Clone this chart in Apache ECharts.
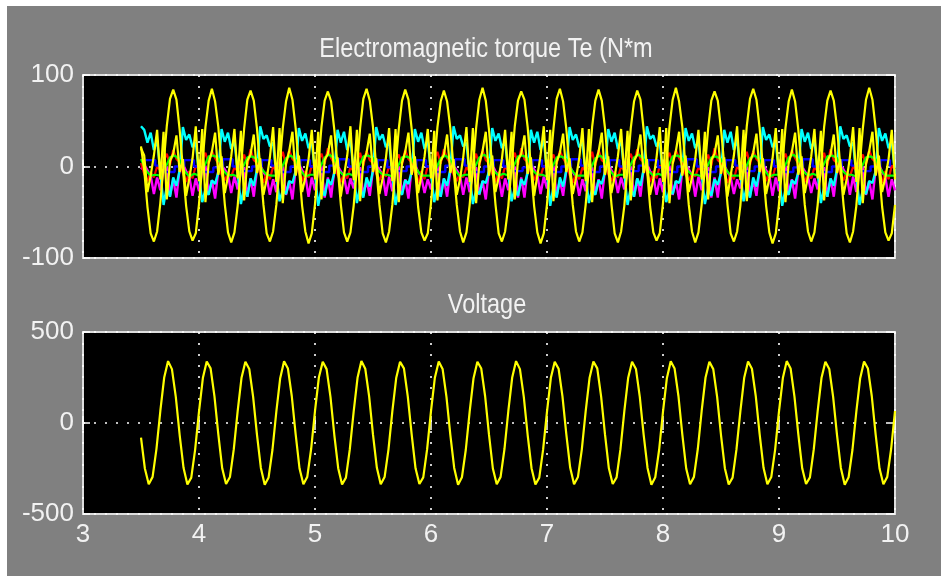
<!DOCTYPE html>
<html><head><meta charset="utf-8">
<script src="https://cdn.jsdelivr.net/npm/echarts@6/dist/echarts.min.js"></script>
<style>html,body{margin:0;padding:0;background:#fff;}#c{width:941px;height:576px;}</style>
</head><body><div id="c"></div>
<script>
// ---- axis ranges / ticks ----
const X_MIN = 3, X_MAX = 10, X_STEP = 1;
const TE_MIN = -100, TE_MAX = 100, TE_STEP = 100;
const V_MIN = -500, V_MAX = 500, V_STEP = 500;
const TITLE_TE = 'Electromagnetic torque Te (N*m';
const TITLE_V = 'Voltage';

// ---- sampling of the recorded signals (start time, sample period) ----
const T_START = 3.5;
const DT_TE = 1 / 36;     // torque traces
const DT_GREEN = 1 / 24;  // green trace
const DT_V = 1 / 30;      // voltage trace
const T_BLUE = 3.54, DT_BLUE = 1 / 12; // blue (held) trace

// ---- torque traces (N*m) ----
const teYellow = [
22,-4,-44,-73,-82,-71,-40,2,44,74,84,73,
40,-2,-43,-71,-81,-73,-41,1,43,72,85,71,
43,1,-41,-72,-83,-72,-43,-1,41,73,83,72,
41,-1,-42,-73,-82,-71,-42,0,42,71,86,73,
42,0,-43,-71,-84,-73,-41,1,43,72,82,71,
40,1,-41,-72,-82,-72,-43,-1,42,74,85,72,
43,-1,-42,-73,-83,-71,-42,0,41,72,84,73,
41,0,-44,-72,-81,-73,-40,2,43,71,83,71,
42,-2,-42,-71,-83,-72,-42,-1,42,73,86,72,
40,1,-41,-73,-82,-71,-43,0,44,72,82,73,
43,0,-43,-72,-84,-73,-41,1,41,74,85,71,
41,-1,-42,-71,-82,-72,-42,-1,43,72,84,72,
42,1,-41,-73,-83,-71,-43,0,42,71,83,73,
40,-1,-44,-72,-81,-73,-40,2,43,73,86,71,
43,0,-42,-71,-83,-72,-42,-1,41,72,82,72,
41,2,-41,-73,-82,-71,-43,0,44,74,85,73,
42,-1,-43,-72,-84,-73,-41,1,42,71,84,71,
40,0,-42,-71,-82,-72,-42,-1,43,72,83,72,
43,1,-41,-73,-83,-71,-43,0,41,73,86,73,
41,-1,-44,-72,-81,-73,-42
];
const teYellow2 = [
20,12,-28,-10,12,40,-14,38,-36,6,14,34,
-6,8,-32,-13,9,44,-16,41,-39,4,16,37,
-9,11,-29,-11,11,41,-13,39,-37,6,13,35,
-7,9,-31,-14,10,43,-17,42,-40,3,17,38,
-10,12,-28,-12,8,40,-14,38,-36,7,14,34,
-8,10,-33,-10,12,44,-15,40,-38,5,15,36,
-6,9,-30,-13,9,42,-16,41,-39,4,16,37,
-9,11,-29,-11,11,41,-13,39,-37,6,13,35,
-7,8,-31,-14,10,43,-17,42,-40,3,17,38,
-10,12,-28,-12,8,40,-14,38,-36,7,14,34,
-8,10,-32,-10,12,44,-15,40,-38,5,15,36,
-6,9,-30,-13,9,42,-16,41,-39,4,16,37,
-9,11,-29,-11,11,41,-13,39,-37,6,13,35,
-7,8,-31,-14,10,43,-17,42,-40,3,17,38,
-10,12,-28,-12,8,40,-14,38,-36,7,14,34,
-8,10,-33,-10,12,44,-15,40,-38,5,15,36,
-6,9,-30,-13,9,42,-16,41,-39,4,16,37,
-9,11,-29,-11,11,41,-13,39,-37,6,13,35,
-7,8,-31,-14,10,43,-17,42,-40,3,17,38,
-10,12,-28,-12,8,40,-14
];
const teCyan = [
44,40,26,37,18,29,-6,-42,-22,-33,-12,-21,
-4,43,29,35,21,27,-9,-39,-25,-31,-15,-19,
-6,41,27,37,19,29,-7,-41,-23,-33,-13,-21,
-3,44,30,34,22,26,-10,-38,-26,-30,-16,-18,
-5,42,28,36,20,28,-8,-43,-24,-32,-14,-20,
-7,40,26,38,18,30,-6,-40,-22,-34,-12,-22,
-4,43,29,35,21,27,-9,-42,-25,-31,-15,-19,
-6,41,27,37,19,29,-7,-39,-23,-33,-13,-21,
-3,44,30,34,22,26,-10,-41,-26,-30,-16,-18,
-5,42,28,36,20,28,-8,-38,-24,-32,-14,-20,
-7,40,26,38,18,30,-6,-43,-22,-34,-12,-22,
-4,43,29,35,21,27,-9,-40,-25,-31,-15,-19,
-6,41,27,37,19,29,-7,-42,-23,-33,-13,-21,
-3,44,30,34,22,26,-10,-39,-26,-30,-16,-18,
-5,42,28,36,20,28,-8,-41,-24,-32,-14,-20,
-7,40,26,38,18,30,-6,-38,-22,-34,-12,-22,
-4,43,29,35,21,27,-9,-43,-25,-31,-15,-19,
-6,41,27,37,19,29,-7,-40,-23,-33,-13,-21,
-3,44,30,34,22,26,-10,-42,-26,-30,-16,-18,
-5,42,28,36,20,28,-8
];
const teMagenta = [
-3,2,-4,-10,-30,-12,-26,-4,0,-32,-14,-34,
-2,3,-5,-11,-32,-13,-27,-3,1,-30,-15,-35,
-4,1,-3,-9,-29,-11,-25,-5,-1,-33,-13,-33,
-3,2,-6,-12,-31,-14,-28,-4,0,-31,-16,-36,
-2,3,-4,-10,-33,-12,-26,-3,1,-34,-12,-34,
-4,1,-5,-11,-30,-13,-24,-5,-1,-32,-15,-32,
-3,2,-3,-9,-32,-11,-27,-4,0,-30,-14,-35,
-2,3,-6,-12,-29,-14,-25,-3,1,-33,-13,-33,
-4,1,-4,-10,-31,-12,-28,-5,-1,-31,-16,-36,
-3,2,-5,-11,-33,-13,-26,-4,0,-34,-12,-34,
-2,3,-3,-9,-30,-11,-24,-3,1,-32,-15,-32,
-4,1,-6,-12,-32,-14,-27,-5,-1,-30,-14,-35,
-3,2,-4,-10,-29,-12,-25,-4,0,-33,-13,-33,
-2,3,-5,-11,-31,-13,-28,-3,1,-31,-16,-36,
-4,1,-3,-9,-33,-11,-26,-5,-1,-34,-12,-34,
-3,2,-6,-12,-30,-14,-24,-4,0,-32,-15,-32,
-2,3,-4,-10,-32,-12,-27,-3,1,-30,-14,-35,
-4,1,-5,-11,-29,-13,-25,-5,-1,-33,-13,-33,
-3,2,-3,-9,-31,-11,-28,-4,0,-31,-16,-36,
-2,3,-6,-12,-33,-14,-26
];
const teRed = [
4,-8,-16,-6,-12,0,-4,6,14,2,18,8,
5,-7,-17,-5,-13,1,-3,7,15,3,17,9,
3,-9,-15,-7,-11,-1,-5,5,13,1,19,7,
4,-8,-18,-6,-14,0,-4,6,16,2,18,8,
5,-7,-16,-5,-12,1,-3,7,14,3,20,9,
3,-9,-17,-7,-13,-1,-5,5,15,1,17,7,
4,-8,-15,-6,-11,0,-4,6,13,2,18,8,
5,-7,-18,-5,-14,1,-3,7,16,3,19,9,
3,-9,-16,-7,-12,-1,-5,5,14,1,18,7,
4,-8,-17,-6,-13,0,-4,6,15,2,20,8,
5,-7,-15,-5,-11,1,-3,7,13,3,17,9,
3,-9,-18,-7,-14,-1,-5,5,16,1,18,7,
4,-8,-16,-6,-12,0,-4,6,14,2,19,8,
5,-7,-17,-5,-13,1,-3,7,15,3,18,9,
3,-9,-15,-7,-11,-1,-5,5,13,1,20,7,
4,-8,-18,-6,-14,0,-4,6,16,2,17,8,
5,-7,-16,-5,-12,1,-3,7,14,3,18,9,
3,-9,-17,-7,-13,-1,-5,5,15,1,19,7,
4,-8,-15,-6,-11,0,-4,6,13,2,18,8,
5,-7,-18,-5,-14,1,-3
];
const teGreen = [
8,-4,-10,-9,-10,-2,10,12,
7,-5,-11,-8,-10,-1,11,12,
9,-4,-10,-9,-11,-2,10,11,
8,-3,-9,-10,-10,-3,9,12,
7,-4,-11,-9,-9,-2,10,13,
8,-5,-10,-8,-10,-1,11,12,
9,-4,-9,-9,-11,-2,10,11,
8,-3,-10,-10,-10,-3,9,12,
7,-4,-11,-9,-9,-2,10,13,
8,-5,-10,-8,-10,-1,11,12,
9,-4,-9,-9,-11,-2,10,11,
8,-3,-10,-10,-10,-3,9,12,
7,-4,-11,-9,-9,-2,10,13,
8,-5,-10,-8,-10,-1,11,12,
9,-4,-9,-9,-11,-2,10,11,
8,-3,-10,-10,-10,-3,9,12,
7,-4,-11,-9,-9,-2,10,13,
8,-5,-10,-8,-10,-1,11,12,
9,-4,-9,-9,-11,-2,10,11,
8,-3,-10,-10,-10
];
const teBlue = [
7,1,-6,0, 7,0,-6,-1, 8,0,-5,0, 7,1,-6,0, 7,0,-6,1,
8,0,-6,0, 7,-1,-5,0, 7,0,-6,1, 8,1,-6,0, 7,0,-5,-1,
7,0,-6,0, 8,1,-6,0, 7,0,-5,1, 7,-1,-6,0, 8,0,-6,0,
7,1,-5,0, 7,0,-6,-1, 8,0,-6,0, 7,1,-5,0, 7,0
];

// ---- voltage trace (V) ----
const voltage = [
-80,-250,-336,-296,-142,66,250,340,296,144,
-66,-246,-338,-300,-146,62,247,338,300,146,
-63,-249,-335,-297,-144,65,249,336,297,143,
-65,-247,-339,-299,-147,63,246,339,299,147,
-62,-250,-336,-296,-143,66,250,337,296,144,
-66,-248,-338,-300,-145,62,248,341,298,146,
-64,-246,-337,-297,-146,64,247,336,300,145,
-63,-249,-335,-299,-144,65,249,338,297,143,
-65,-247,-339,-298,-147,63,246,337,299,147,
-64,-250,-336,-296,-143,66,250,340,296,144,
-66,-248,-338,-300,-145,62,248,336,298,146,
-62,-246,-337,-297,-146,64,247,338,300,145,
-63,-249,-335,-299,-144,65,249,337,297,143,
-65,-247,-339,-298,-147,63,246,339,299,147,
-64,-250,-336,-296,-143,66,250,336,296,144,
-66,-248,-338,-300,-145,62,248,338,298,146,
-62,-246,-337,-297,-146,64,247,340,300,145,
-63,-249,-335,-299,-144,65,249,337,297,143,
-65,-247,-339,-298,-147,63,246,338,299,147,
-64,-250,-336,-296,-143,66
];

// ---- build chart ----
function pairs(vals, t0, dt) { return vals.map((v, i) => [t0 + i * dt, v]); }

const FONT = '"Liberation Sans", Arial, sans-serif';
const TXT = '#f2f2f2';
const GRIDS = [
  { left: 83, top: 75, width: 812, height: 183 },
  { left: 83, top: 332, width: 812, height: 182 }
];

function xAx(g, pos, labels) {
  return {
    type: 'value', gridIndex: g, position: pos, min: X_MIN, max: X_MAX, interval: X_STEP,
    axisLine: { show: false },
    axisTick: { show: true, inside: true, length: 7, lineStyle: { color: '#ffffff', width: 1.5 } },
    axisLabel: { show: labels, color: TXT, fontFamily: FONT, fontSize: 26, margin: 8 },
    splitLine: { show: pos === 'bottom', lineStyle: { color: '#ffffff', width: 1.6, type: [2, 9] } }
  };
}
function yAx(g, pos, mn, mx, st) {
  return {
    type: 'value', gridIndex: g, position: pos, min: mn, max: mx, interval: st,
    axisLine: { show: false },
    axisTick: { show: true, inside: true, length: 7, lineStyle: { color: '#ffffff', width: 1.5 } },
    axisLabel: { show: pos === 'left', color: TXT, fontFamily: FONT, fontSize: 26, margin: 9 },
    splitLine: { show: pos === 'left', lineStyle: { color: '#ffffff', width: 1.6, type: [2, 9] } }
  };
}
function line(name, data, color, xi, yi, w, extra) {
  return Object.assign({
    name, type: 'line', data, xAxisIndex: xi, yAxisIndex: yi,
    showSymbol: false, symbol: 'none', animation: false, silent: true,
    lineStyle: { color, width: w }, itemStyle: { color }
  }, extra || {});
}

const chart = echarts.init(document.getElementById('c'), null, { renderer: 'canvas' });
chart.setOption({
  backgroundColor: '#808080',
  animation: false,
  grid: GRIDS.map(g => Object.assign({ show: true, backgroundColor: '#000000', borderColor: '#dedede', borderWidth: 2, containLabel: false }, g)),
  xAxis: [xAx(0, 'bottom', false), xAx(0, 'top', false), xAx(1, 'bottom', true), xAx(1, 'top', false)],
  yAxis: [yAx(0, 'left', TE_MIN, TE_MAX, TE_STEP), yAx(0, 'right', TE_MIN, TE_MAX, TE_STEP),
          yAx(1, 'left', V_MIN, V_MAX, V_STEP), yAx(1, 'right', V_MIN, V_MAX, V_STEP)],
  series: [
    line('Te magenta', pairs(teMagenta, T_START, DT_TE), '#ff00ff', 0, 0, 2.4),
    line('Te cyan', pairs(teCyan, T_START, DT_TE), '#00ffff', 0, 0, 2.4),
    line('Te red', pairs(teRed, T_START, DT_TE), '#ff0000', 0, 0, 2.2),
    line('Te green', pairs(teGreen, T_START, DT_GREEN), '#00ff00', 0, 0, 2.2),
    line('Te blue', pairs(teBlue, T_BLUE, DT_BLUE), '#0000ff', 0, 0, 2.4, { step: 'end' }),
    line('Te yellow 2', pairs(teYellow2, T_START, DT_TE), '#ffff00', 0, 0, 2.2),
    line('Te yellow', pairs(teYellow, T_START, DT_TE), '#ffff00', 0, 0, 2.2),
    line('Voltage', pairs(voltage, T_START, DT_V), '#ffff00', 2, 2, 2.2)
  ],
  graphic: [
    { type: 'rect', shape: { x: 0, y: 0, width: 941, height: 6 }, style: { fill: '#ffffff' }, silent: true },
    { type: 'rect', shape: { x: 0, y: 0, width: 7, height: 576 }, style: { fill: '#ffffff' }, silent: true },
    { type: 'text', x: 486, y: 49, scaleX: 0.84, style: { text: TITLE_TE, fill: TXT, font: '28px ' + FONT, align: 'center', verticalAlign: 'middle' }, silent: true },
    { type: 'text', x: 487, y: 305, scaleX: 0.84, style: { text: TITLE_V, fill: TXT, font: '28px ' + FONT, align: 'center', verticalAlign: 'middle' }, silent: true }
  ]
});
</script>
</body></html>
